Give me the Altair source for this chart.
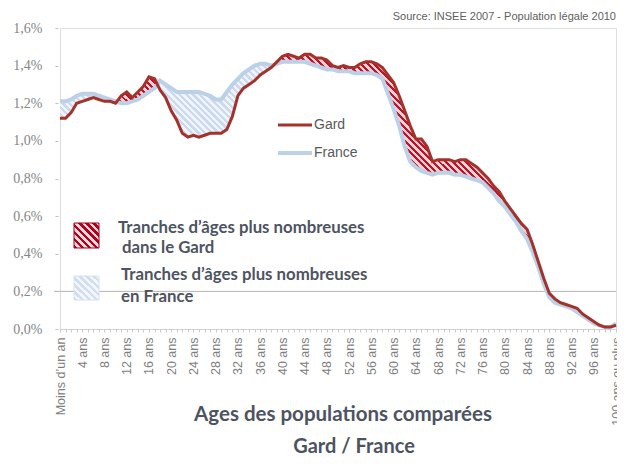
import json
import altair as alt
import pandas as pd

# ---------------- data ----------------
ages = list(range(101))
gard = [1.12, 1.12, 1.15, 1.20, 1.21, 1.22, 1.23, 1.22, 1.21, 1.21,
        1.20, 1.24, 1.26, 1.23, 1.26, 1.29, 1.34, 1.33, 1.27, 1.23,
        1.16, 1.11, 1.04, 1.02, 1.03, 1.02, 1.03, 1.04, 1.04, 1.04,
        1.06, 1.13, 1.24, 1.28, 1.30, 1.32, 1.35, 1.37, 1.39, 1.42,
        1.45, 1.46, 1.45, 1.44, 1.46, 1.46, 1.44, 1.44, 1.43, 1.40,
        1.39, 1.40, 1.39, 1.39, 1.41, 1.42, 1.42, 1.41, 1.39, 1.35,
        1.31, 1.24, 1.16, 1.08, 1.01, 1.01, 0.97, 0.89, 0.90, 0.90,
        0.90, 0.89, 0.90, 0.90, 0.88, 0.86, 0.83, 0.80, 0.76, 0.73,
        0.68, 0.64, 0.60, 0.56, 0.53, 0.45, 0.36, 0.27, 0.19, 0.16,
        0.14, 0.13, 0.12, 0.11, 0.08, 0.06, 0.04, 0.02, 0.01, 0.01,
        0.02]
france = [1.21, 1.21, 1.22, 1.24, 1.25, 1.25, 1.25, 1.24, 1.23, 1.22,
          1.21, 1.20, 1.20, 1.21, 1.22, 1.24, 1.26, 1.28, 1.32, 1.30,
          1.28, 1.26, 1.26, 1.26, 1.26, 1.26, 1.25, 1.24, 1.22, 1.22,
          1.26, 1.30, 1.33, 1.36, 1.38, 1.40, 1.41, 1.41, 1.40, 1.41,
          1.42, 1.42, 1.42, 1.42, 1.42, 1.41, 1.40, 1.39, 1.38, 1.38,
          1.37, 1.37, 1.37, 1.36, 1.36, 1.36, 1.36, 1.35, 1.33, 1.25,
          1.17, 1.08, 0.97, 0.89, 0.86, 0.84, 0.83, 0.82, 0.83, 0.83,
          0.83, 0.82, 0.82, 0.81, 0.80, 0.79, 0.78, 0.75, 0.72, 0.68,
          0.65, 0.61, 0.57, 0.52, 0.48, 0.41, 0.33, 0.24, 0.17, 0.14,
          0.13, 0.12, 0.11, 0.09, 0.07, 0.05, 0.03, 0.02, 0.01, 0.01,
          0.03]
y_ticks = [0.0, 0.2, 0.4, 0.6, 0.8, 1.0, 1.2, 1.4, 1.6]
x_label_ages = [0, 4, 8, 12, 16, 20, 24, 28, 32, 36, 40, 44, 48, 52, 56,
                60, 64, 68, 72, 76, 80, 84, 88, 92, 96, 100]
x_label_texts = ["Moins d’un an", "4 ans", "8 ans", "12 ans", "16 ans",
                 "20 ans", "24 ans", "28 ans", "32 ans", "36 ans", "40 ans",
                 "44 ans", "48 ans", "52 ans", "56 ans", "60 ans", "64 ans",
                 "68 ans", "72 ans", "76 ans", "80 ans", "84 ans", "88 ans",
                 "92 ans", "96 ans", "100 ans ou plus"]
highlight_level = [0.2]

df = pd.DataFrame({"age": ages, "gard": gard, "france": france})

W, H = 556, 301
DARK = "#4d5361"


def hatch(c1, c2, n, x1, y1, x2, y2, frac=0.5):
    stops = []
    for i in range(n):
        a, b, c = i / n, (i + frac) / n, (i + 1) / n
        stops += [{"offset": round(a, 5), "color": c1},
                  {"offset": round(b, 5), "color": c1},
                  {"offset": round(b, 5), "color": c2},
                  {"offset": round(c, 5), "color": c2}]
    return {"gradient": "linear", "x1": x1, "y1": y1, "x2": x2, "y2": y2,
            "stops": stops}


red_hatch = hatch("#c3102b", "#ecd3d3", 125, 0, 1, 1.2, 0.41, 0.45)
blue_hatch = hatch("#cbdaee", "#f1f5fb", 125, 0, 1, 1.2, 0.41, 0.5)
red_sq = hatch("#b5001f", "#f0dada", 7, 0, 1, 1, 0, 0.5)
blue_sq = hatch("#d0def0", "#f3f7fb", 7, 0, 1, 1, 0, 0.5)

label_expr = (
    f"indexof({json.dumps(x_label_ages)}, datum.value) >= 0 ? "
    f"{json.dumps(x_label_texts, ensure_ascii=False)}"
    f"[indexof({json.dumps(x_label_ages)}, datum.value)] : ''"
)

xscale = alt.Scale(domain=[0, 100], nice=False, zero=False)
yscale = alt.Scale(domain=[0, 1.6], nice=False)

x_axis = alt.Axis(values=ages, labelExpr=label_expr, labelAngle=-90,
                  labelFontSize=12.5, labelColor="#7f7f7f",
                  labelFont="Liberation Sans", labelPadding=5,
                  tickSize=3, tickColor="#c8c8c8",
                  domainColor="#c8c8c8", domainDash=[2, 2],
                  grid=False, labelOverlap=False, labelFlush=False,
                  labelBound=False)
y_axis = alt.Axis(values=y_ticks,
                  labelExpr="replace(format(datum.value, '.1f'), '.', ',') + '%'",
                  labelFont="Liberation Serif", labelFontSize=14,
                  labelColor="#858585", labelPadding=13, tickSize=3,
                  tickColor="#c0c0c0", domain=False, grid=False, offset=2,
                  labelOverlap=False)


def X():
    return alt.X("age:Q", scale=xscale, title=None, axis=x_axis)


def Y(field):
    return alt.Y(field, scale=yscale, title=None, axis=y_axis)


base = alt.Chart(df).transform_calculate(top="max(datum.gard, datum.france)")

red_area = base.mark_area(fill=red_hatch, interpolate="linear").encode(
    x=X(), y=Y("top:Q"), y2="france:Q")
blue_area = base.mark_area(fill=blue_hatch, interpolate="linear").encode(
    x=X(), y=Y("top:Q"), y2="gard:Q")

rule = alt.Chart(pd.DataFrame({"v": highlight_level})).mark_rule(
    color="#b4b4b4", strokeWidth=1).encode(
    y=Y("v:Q"), x=alt.value(-6), x2=alt.value(W))

france_line = alt.Chart(df).mark_line(color="#bcd0e8", strokeWidth=4).encode(
    x=X(), y=Y("france:Q"))
gard_line = alt.Chart(df).mark_line(color="#a3322c", strokeWidth=3).encode(
    x=X(), y=Y("gard:Q"))

one = pd.DataFrame({"k": [0]})


def txt(s, x, y, size, color, weight="normal", align="left",
        font="Lato"):
    return alt.Chart(one).mark_text(
        text=s, align=align, baseline="middle", fontSize=size, color=color,
        fontWeight=weight, font=font).encode(x=alt.value(x), y=alt.value(y))


def seg(x1, x2, y, color, w):
    return alt.Chart(one).mark_rule(color=color, strokeWidth=w).encode(
        x=alt.value(x1), x2=alt.value(x2), y=alt.value(y))


def sq(x1, x2, y1, y2, fill, stroke=None):
    kw = {"fill": fill}
    if stroke:
        kw.update(stroke=stroke, strokeWidth=1)
    return alt.Chart(one).mark_rect(**kw).encode(
        x=alt.value(x1), x2=alt.value(x2), y=alt.value(y1), y2=alt.value(y2))


annotations = [
    txt("Source: INSEE 2007 - Population légale 2010", 556, -11, 11,
        "#606060", align="right", font="Liberation Sans"),
    seg(218, 252, 97, "#a3322c", 3),
    txt("Gard", 254, 97, 14, "#5a5a5a", font="Liberation Sans"),
    seg(218, 252, 125, "#bcd0e8", 4),
    txt("France", 254, 125, 14, "#5a5a5a", font="Liberation Sans"),
    sq(14, 39, 195, 220, red_sq, "#a0001c"),
    sq(14, 39, 248, 272, blue_sq, "#d6e2f1"),
    txt("Tranches d’âges plus nombreuses", 58, 200, 16.8, DARK, "bold"),
    txt("dans le Gard", 62, 220, 16.8, DARK, "bold"),
    txt("Tranches d’âges plus nombreuses", 61, 247, 16.8, DARK, "bold"),
    txt("en France", 61, 269, 16.8, DARK, "bold"),
    txt("Ages des populations comparées", 283, 387, 20.5, DARK, "bold",
        align="center"),
    txt("Gard / France", 294, 419, 20, DARK, "bold", align="center"),
]

chart = alt.layer(rule, red_area, blue_area, france_line, gard_line,
                  *annotations).properties(
    width=W, height=H,
    autosize=alt.AutoSizeParams(type="none"),
    padding={"left": 52, "top": 20, "right": 1, "bottom": 130},
).configure_view(stroke=None).configure(background="white")

chart.save("out.html", embed_options={"renderer": "svg", "actions": False})
